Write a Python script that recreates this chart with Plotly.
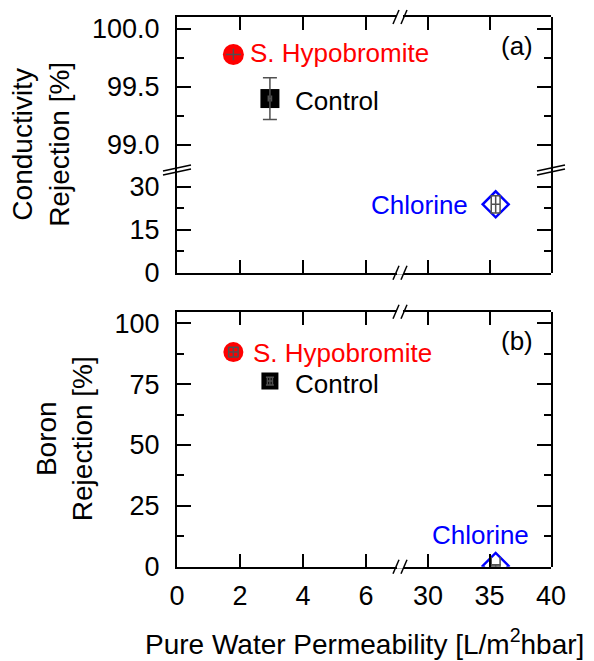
import plotly.graph_objects as go

# ---------------- data ----------------
samples = ["S. Hypobromite", "Control", "Chlorine"]
colors = ["#ff0000", "#000000", "#0000ff"]
symbols = ["circle", "square", "diamond-open"]
permeability = [1.79, 2.95, 35.5]
perm_err_a = [0.24, 0.05, 0.36]
perm_err_b = [0.15, 0.08, 0.36]
cond_rejection = [99.78, 99.40, 23.9]
cond_err = [0.05, 0.18, 3.0]
boron_rejection = [88.2, 76.3, 0.3]
boron_err = [2.0, 1.6, 0.5]

x_left_ticks = [0, 2, 4, 6]
x_right_ticks = [30, 35, 40]

FONT = "Liberation Sans, Arial, sans-serif"
W, H = 594, 661


def fx(px):
    return px / W


def fy(py):
    return 1 - py / H


# layout geometry (pixels)
XL, XB, XR = 177, 400, 551
A_TOP, A_BRK, A_BOT = 17, 170, 272.7
B_TOP, B_BOT = 311.7, 566.7

x_left_range = [0, 7.08]
x_right_range = [27.72, 40]
ya_up_range = [98.784, 100.103]
ya_lo_range = [0, 35.9]
yb_range = [0, 104.8]

fig = go.Figure()

X_BREAK = x_left_range[1]
Y_BREAK = 90

sizes_a = [21, 19, 20]
sizes_b = [20, 17, 20]
errcol = "#505050"
capx_a = [0, 3, 9]
capy_a = [0, 7, 5]
capx_b = [5, 4, 9]
capy_b = [5, 4, 5]

for i, name in enumerate(samples):
    # panel (a)
    xa = "x" if permeability[i] < X_BREAK else "x2"
    ya = "y" if cond_rejection[i] > Y_BREAK else "y2"
    mk = dict(color=colors[i], size=sizes_a[i], symbol=symbols[i],
              line=dict(color=colors[i], width=2.5 if "open" in symbols[i] else 0))
    fig.add_trace(go.Scatter(x=[permeability[i]], y=[cond_rejection[i]], xaxis=xa, yaxis=ya,
                             mode="markers", marker=mk, showlegend=False, hoverinfo="skip"))
    fig.add_trace(go.Scatter(x=[permeability[i]], y=[cond_rejection[i]], xaxis=xa, yaxis=ya,
                             mode="markers", marker=dict(size=1, opacity=0), showlegend=False,
                             hoverinfo="skip",
                             error_x=dict(type="data", array=[perm_err_a[i]], color=errcol,
                                          thickness=1.5, width=capx_a[i]),
                             error_y=dict(type="data", array=[cond_err[i]], color=errcol,
                                          thickness=1.5, width=capy_a[i])))
    # panel (b)
    xb = "x3" if permeability[i] < X_BREAK else "x4"
    mk = dict(color=colors[i], size=sizes_b[i], symbol=symbols[i],
              line=dict(color=colors[i], width=2.5 if "open" in symbols[i] else 0))
    fig.add_trace(go.Scatter(x=[permeability[i]], y=[boron_rejection[i]], xaxis=xb, yaxis="y3",
                             mode="markers", marker=mk, showlegend=False, hoverinfo="skip"))
    fig.add_trace(go.Scatter(x=[permeability[i]], y=[boron_rejection[i]], xaxis=xb, yaxis="y3",
                             mode="markers", marker=dict(size=1, opacity=0), showlegend=False,
                             hoverinfo="skip",
                             error_x=dict(type="data", array=[perm_err_b[i]], color=errcol,
                                          thickness=1.5, width=capx_b[i]),
                             error_y=dict(type="data", array=[boron_err[i]], color=errcol,
                                          thickness=1.5, width=capy_b[i])))

# empty traces so that the mirror (frame) axes get their own subplots
for xa_, ya_ in [("x5", "y"), ("x6", "y"), ("x2", "y5"), ("x2", "y6"),
                 ("x7", "y3"), ("x8", "y3"), ("x4", "y7")]:
    fig.add_trace(go.Scatter(x=[None], y=[None], xaxis=xa_, yaxis=ya_, mode="markers",
                             showlegend=False, hoverinfo="skip"))

tickfont = dict(family=FONT, size=27, color="black")
common = dict(showline=True, linecolor="black", linewidth=2, ticks="inside",
              tickcolor="black", tickwidth=1.5, showgrid=False, zeroline=False,
              tickfont=tickfont, fixedrange=True, automargin=False)


def xaxis(domain, rng, tick0, dtick, anchor, labels, side="bottom"):
    return dict(common, domain=domain, range=rng, tick0=tick0, dtick=dtick, anchor=anchor,
                side=side, ticklen=13, showticklabels=labels, ticklabelstandoff=4)


def yaxis(domain, rng, tick0, dtick, minor, anchor, labels, side="left", fmt=None):
    d = dict(common, domain=domain, range=rng, tick0=tick0, dtick=dtick, anchor=anchor,
             side=side, ticklen=14, showticklabels=labels, ticklabelstandoff=10,
             minor=dict(ticks="inside", ticklen=7, dtick=minor, tick0=tick0,
                        tickcolor="black", tickwidth=1.5, showgrid=False))
    if fmt:
        d["tickformat"] = fmt
    return d


dxl = [fx(XL), fx(XB)]
dxr = [fx(XB), fx(XR)]
dya_up = [fy(A_BRK), fy(A_TOP)]
dya_lo = [fy(A_BOT), fy(A_BRK)]
dyb = [fy(B_BOT), fy(B_TOP)]

fig.update_layout(
    template="none",
    width=W, height=H, margin=dict(l=0, r=0, t=0, b=0, pad=0, autoexpand=False),
    paper_bgcolor="white", plot_bgcolor="rgba(0,0,0,0)", showlegend=False,
    xaxis=xaxis(dxl, x_left_range, 0, 2, "y2", False),
    xaxis2=xaxis(dxr, x_right_range, 30, 5, "y2", False),
    xaxis5=xaxis(dxl, x_left_range, 0, 2, "y", False, side="top"),
    xaxis6=xaxis(dxr, x_right_range, 30, 5, "y", False, side="top"),
    xaxis3=xaxis(dxl, x_left_range, 0, 2, "y3", True),
    xaxis4=xaxis(dxr, x_right_range, 30, 5, "y3", True),
    xaxis7=xaxis(dxl, x_left_range, 0, 2, "y3", False, side="top"),
    xaxis8=xaxis(dxr, x_right_range, 30, 5, "y3", False, side="top"),
    yaxis=yaxis(dya_up, ya_up_range, 99, 0.5, 0.25, "x", True, fmt=".1f"),
    yaxis2=yaxis(dya_lo, ya_lo_range, 0, 15, 7.5, "x", True),
    yaxis5=yaxis(dya_up, ya_up_range, 99, 0.5, 0.25, "x2", False, side="right"),
    yaxis6=yaxis(dya_lo, ya_lo_range, 0, 15, 7.5, "x2", False, side="right"),
    yaxis3=yaxis(dyb, yb_range, 0, 25, 12.5, "x3", True),
    yaxis7=yaxis(dyb, yb_range, 0, 25, 12.5, "x4", False, side="right"),
)

# ---------------- annotations ----------------
ann = []


def lab_font(c):
    return dict(family=FONT, size=26, color=c)


# panel (a) labels
ann.append(dict(x=permeability[0], y=cond_rejection[0], xref="x", yref="y", text=samples[0],
                showarrow=False, xanchor="left", yanchor="middle", xshift=15, yshift=1,
                font=lab_font(colors[0])))
ann.append(dict(x=permeability[1], y=cond_rejection[1], xref="x", yref="y", text=samples[1],
                showarrow=False, xanchor="left", yanchor="middle", xshift=23, yshift=-2,
                font=lab_font(colors[1])))
ann.append(dict(x=permeability[2], y=cond_rejection[2], xref="x2", yref="y2", text=samples[2],
                showarrow=False, xanchor="right", yanchor="middle", xshift=-26, yshift=-1,
                font=lab_font(colors[2])))
# panel (b) labels
ann.append(dict(x=permeability[0], y=boron_rejection[0], xref="x3", yref="y3", text=samples[0],
                showarrow=False, xanchor="left", yanchor="middle", xshift=18, yshift=-1,
                font=lab_font(colors[0])))
ann.append(dict(x=permeability[1], y=boron_rejection[1], xref="x3", yref="y3", text=samples[1],
                showarrow=False, xanchor="left", yanchor="middle", xshift=23, yshift=-3,
                font=lab_font(colors[1])))
ann.append(dict(x=permeability[2], y=boron_rejection[2], xref="x4", yref="y3", text=samples[2],
                showarrow=False, xanchor="center", yanchor="middle", xshift=-15, yshift=31,
                font=lab_font(colors[2])))

# panel tags
ann.append(dict(x=fx(517), y=fy(46), xref="paper", yref="paper", text="(a)", showarrow=False,
                xanchor="center", yanchor="middle", font=lab_font("black")))
ann.append(dict(x=fx(517), y=fy(341), xref="paper", yref="paper", text="(b)", showarrow=False,
                xanchor="center", yanchor="middle", font=lab_font("black")))

# axis titles
title_font = dict(family=FONT, size=28, color="black")
ann.append(dict(x=fx(41), y=fy((A_TOP + A_BOT) / 2), xref="paper", yref="paper",
                text="Conductivity<br>Rejection [%]", textangle=-90, showarrow=False,
                xanchor="center", yanchor="middle", font=title_font))
ann.append(dict(x=fx(64), y=fy((B_TOP + B_BOT) / 2), xref="paper", yref="paper",
                text="Boron<br>Rejection [%]", textangle=-90, showarrow=False,
                xanchor="center", yanchor="middle", font=title_font))
ann.append(dict(x=fx((XL + XR) / 2), y=fy(642), xref="paper", yref="paper",
                text="Pure Water Permeability [L/m<sup>2</sup>hbar]", showarrow=False,
                xanchor="center", yanchor="middle", font=title_font))
fig.update_layout(annotations=ann)

# ---------------- break marks ----------------
shapes = []


def xbreak(px, py):
    shapes.append(dict(type="rect", xref="paper", yref="paper", x0=fx(px - 3), x1=fx(px + 3),
                       y0=fy(py + 2), y1=fy(py - 2), fillcolor="white", line=dict(width=0)))
    for dx in (-4, 4):
        shapes.append(dict(type="line", xref="paper", yref="paper",
                           x0=fx(px + dx - 3), y0=fy(py + 7), x1=fx(px + dx + 3), y1=fy(py - 7),
                           line=dict(color="black", width=1.5)))


def ybreak(px, py):
    for dy in (-2, 2):
        shapes.append(dict(type="line", xref="paper", yref="paper",
                           x0=fx(px - 14), y0=fy(py + dy + 3), x1=fx(px + 14), y1=fy(py + dy - 3),
                           line=dict(color="black", width=1.5)))


for py in (A_TOP, A_BOT, B_TOP, B_BOT):
    xbreak(XB, py)
ybreak(XL, A_BRK)
ybreak(XR, A_BRK)
fig.update_layout(shapes=shapes)

fig.write_html("out.html")
